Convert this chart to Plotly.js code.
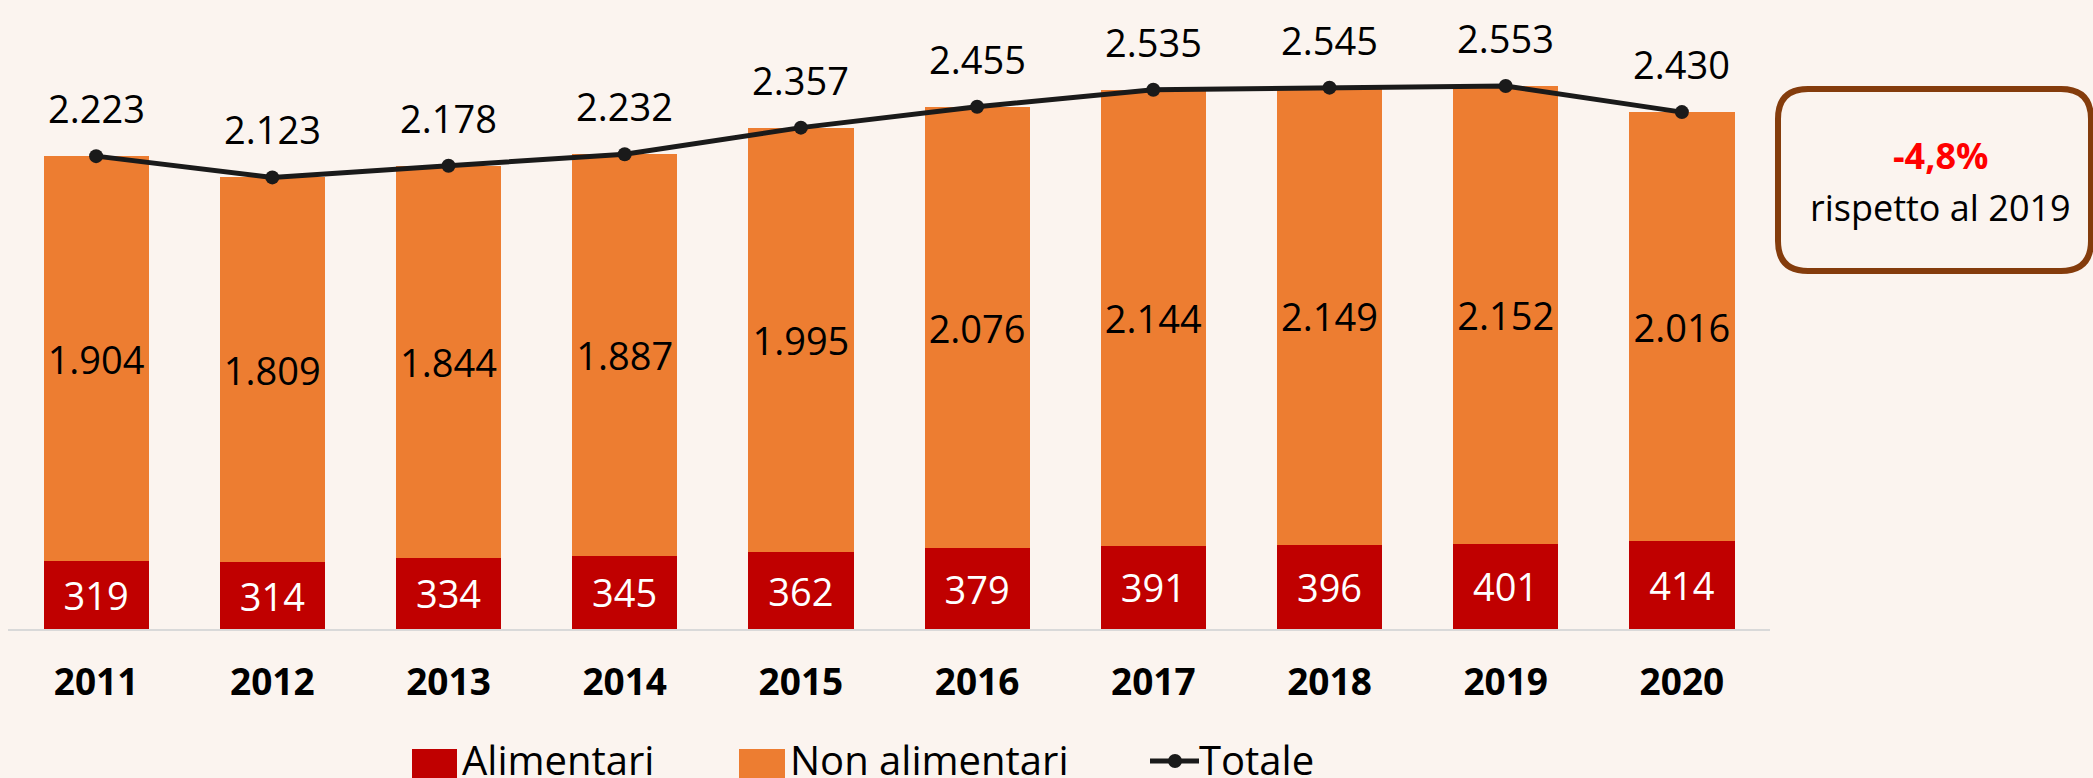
<!DOCTYPE html>
<html>
<head>
<meta charset="utf-8">
<script src="https://cdn.plot.ly/plotly-3.0.1.min.js"></script>
<style>
html,body{margin:0;padding:0;background:#FBF4EF;}
#chart{width:2093px;height:778px;}
</style>
</head>
<body>
<div id="chart"></div>
<script>
// ---- data ----
const years = ['2011','2012','2013','2014','2015','2016','2017','2018','2019','2020'];
const alimentari = [319, 314, 334, 345, 362, 379, 391, 396, 401, 414];
const nonAlimentari = [1904, 1809, 1844, 1887, 1995, 2076, 2144, 2149, 2152, 2016];
const totale = [2223, 2123, 2178, 2232, 2357, 2455, 2535, 2545, 2553, 2430];
const seriesNames = ['Alimentari', 'Non alimentari', 'Totale'];
const boxValue = '-4,8%';
const boxText = 'rispetto al 2019';

// ---- layout geometry (pixels) ----
const W = 2093, H = 778;
const mL = 8, mR = 323, mT = 0, mB = 149;
const plotW = W - mL - mR, plotH = H - mT - mB;
const px = x => (x - mL) / plotW;
const py = y => (H - mB - y) / plotH;
const P = (x, y) => px(x).toFixed(5) + ',' + py(y).toFixed(5);

const FONT = 'Open Sans, Noto Sans, sans-serif';
const RED = '#C00000', ORANGE = '#ED7D31', LINE = '#1A1A1A', BROWN = '#843C0C';

const traces = [
  {
    type: 'bar', name: seriesNames[0], x: years, y: alimentari,
    marker: {color: RED},
    texttemplate: '%{y:,}', textposition: 'inside', insidetextanchor: 'middle',
    textangle: 0, constraintext: 'none',
    textfont: {family: FONT, size: 38, color: '#FFFFFF'},
    hoverinfo: 'skip', showlegend: false
  },
  {
    type: 'bar', name: seriesNames[1], x: years, y: nonAlimentari,
    marker: {color: ORANGE},
    texttemplate: '%{y:,}', textposition: 'inside', insidetextanchor: 'middle',
    textangle: 0, constraintext: 'none',
    textfont: {family: FONT, size: 38, color: '#000000'},
    hoverinfo: 'skip', showlegend: false
  },
  {
    type: 'scatter', mode: 'lines+markers', name: seriesNames[2], x: years, y: totale,
    line: {color: LINE, width: 5},
    marker: {color: LINE, size: 14},
    cliponaxis: false, hoverinfo: 'skip', showlegend: false
  }
];

// total labels above the line (x given as category index)
const annotations = years.map((yr, i) => ({
  x: i, y: totale[i], xref: 'x', yref: 'y',
  text: totale[i].toLocaleString('de-DE'),
  showarrow: false, yanchor: 'middle', yshift: 48,
  font: {family: FONT, size: 38, color: '#000000'}
}));

// callout box text
annotations.push({
  xref: 'paper', yref: 'paper', x: px(1941), y: py(156), xanchor: 'center', yanchor: 'middle',
  text: '<b>' + boxValue + '</b>', showarrow: false,
  font: {family: FONT, size: 36, color: '#FF0000'}
});
annotations.push({
  xref: 'paper', yref: 'paper', x: px(1941), y: py(207), xanchor: 'center', yanchor: 'middle',
  text: boxText, showarrow: false,
  font: {family: FONT, size: 36, color: '#000000'}
});

// custom legend
const legendItems = [
  {name: seriesNames[0], color: RED, x0: 412, x1: 457, tx: 460, kind: 'box'},
  {name: seriesNames[1], color: ORANGE, x0: 739, x1: 785, tx: 788, kind: 'box'},
  {name: seriesNames[2], color: LINE, x0: 1150, x1: 1199, tx: 1197, kind: 'line'}
];
const shapes = [];
legendItems.forEach(it => {
  if (it.kind === 'box') {
    shapes.push({type: 'rect', xref: 'paper', yref: 'paper',
      x0: px(it.x0), x1: px(it.x1), y0: py(749), y1: py(795),
      fillcolor: it.color, line: {width: 0}});
  } else {
    shapes.push({type: 'line', xref: 'paper', yref: 'paper',
      x0: px(it.x0), x1: px(it.x1), y0: py(761), y1: py(761),
      line: {color: it.color, width: 5}});
    shapes.push({type: 'circle', xref: 'paper', yref: 'paper',
      x0: px(1168), x1: px(1182), y0: py(754), y1: py(768),
      fillcolor: it.color, line: {width: 0}});
  }
  annotations.push({
    xref: 'paper', yref: 'paper', x: px(it.tx), y: py(760),
    xanchor: 'left', yanchor: 'middle', text: it.name, showarrow: false,
    font: {family: FONT, size: 40, color: '#000000'}
  });
});

// rounded callout box
const bx0 = 1778, bx1 = 2091, by0 = 89, by1 = 271, r = 30;
const boxPath = 'M' + P(bx0 + r, by0) + ' L' + P(bx1 - r, by0) +
  ' Q' + P(bx1, by0) + ' ' + P(bx1, by0 + r) +
  ' L' + P(bx1, by1 - r) + ' Q' + P(bx1, by1) + ' ' + P(bx1 - r, by1) +
  ' L' + P(bx0 + r, by1) + ' Q' + P(bx0, by1) + ' ' + P(bx0, by1 - r) +
  ' L' + P(bx0, by0 + r) + ' Q' + P(bx0, by0) + ' ' + P(bx0 + r, by0) + ' Z';
shapes.push({type: 'path', xref: 'paper', yref: 'paper', path: boxPath,
  line: {color: BROWN, width: 6}, fillcolor: 'rgba(0,0,0,0)'});

const layout = {
  width: W, height: H,
  margin: {l: mL, r: mR, t: mT, b: mB, pad: 0},
  paper_bgcolor: '#FBF4EF', plot_bgcolor: '#FBF4EF',
  separators: ',.',
  barmode: 'stack', bargap: 0.403,
  showlegend: false,
  font: {family: FONT},
  xaxis: {
    type: 'category', range: [-0.5, years.length - 0.5], autorange: false,
    showgrid: false, zeroline: false,
    showline: true, linecolor: '#D9D9D9', linewidth: 2,
    ticks: '', ticklabelstandoff: 20,
    tickfont: {family: FONT, size: 37, color: '#000000', weight: 'bold'}
  },
  yaxis: {
    range: [0, 2957], autorange: false, visible: false, showgrid: false, zeroline: false, fixedrange: true
  },
  annotations: annotations,
  shapes: shapes
};

Plotly.newPlot('chart', traces, layout, {displayModeBar: false, staticPlot: true});
</script>
</body>
</html>
